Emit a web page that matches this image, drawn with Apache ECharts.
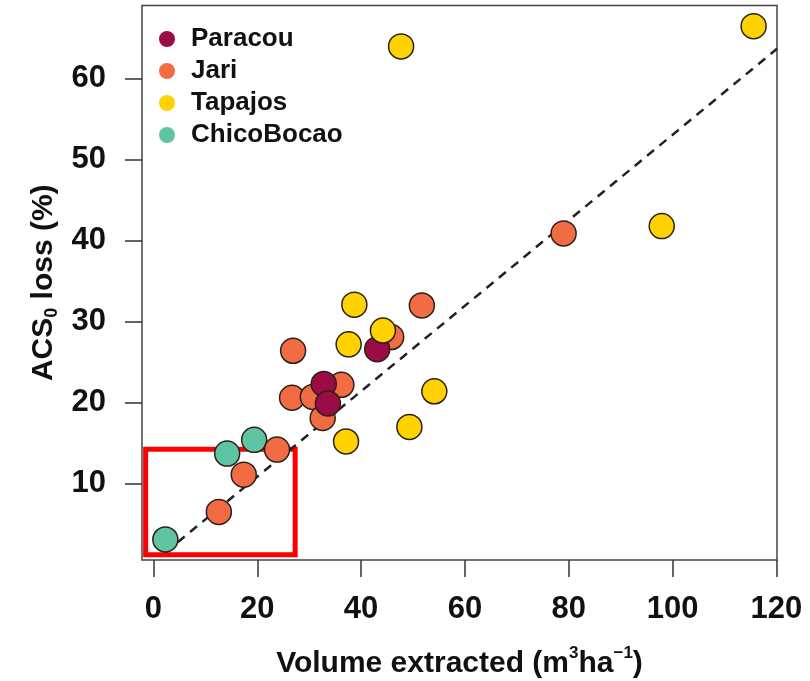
<!DOCTYPE html>
<html>
<head>
<meta charset="utf-8">
<script src="https://cdn.jsdelivr.net/npm/echarts@6/dist/echarts.min.js"></script>
<style>
  html, body { margin: 0; padding: 0; background: #fff; }
  #chart { width: 810px; height: 681px; }
</style>
</head>
<body>
<div id="chart"></div>
<script>
// values: [volume extracted, ACS0 loss]
const paracou = [[43.1, 26.6], [32.8, 22.3], [33.6, 19.9]]
const jari = [
  [51.7, 32.0], [45.8, 28.1], [26.9, 26.4], [36.2, 22.2], [26.7, 20.6], [30.7, 20.7],
  [32.6, 18.1], [23.8, 14.2], [17.4, 11.1], [12.6, 6.5], [79.0, 40.9]
]
const tapajos = [
  [38.7, 32.1], [44.2, 28.9], [37.6, 27.2], [54.1, 21.4], [49.3, 17.0], [37.1, 15.2],
  [47.7, 64.0], [115.6, 66.5], [97.9, 41.8]
]
const chicoBocao = [[2.3, 3.1], [14.2, 13.7], [19.4, 15.4]]
const fitLine = [[2.3, 1.5], [120.1, 63.7]]
const highlightBox = [[-1.5, 14.25], [27.3, 1.2]]

const xTicks = [0, 20, 40, 60, 80, 100, 120]
const yTicks = [10, 20, 30, 40, 50, 60]

const font = '"Liberation Sans", Arial, sans-serif'
const colors = {
  Paracou: '#9b0b46',
  Jari: '#f26c43',
  Tapajos: '#ffd200',
  ChicoBocao: '#5fc4a1'
}

const chart = echarts.init(document.getElementById('chart'))

const scatter = (name, data) => ({
  name,
  type: 'scatter',
  data,
  symbol: 'circle',
  symbolSize: 25,
  z: 3,
  itemStyle: {
    color: colors[name],
    borderColor: '#2b2118',
    borderWidth: 1.5,
    opacity: 1
  }
})

const option = {
  animation: false,
  backgroundColor: '#fff',
  grid: {
    left: 142,
    right: 33,
    top: 5.5,
    bottom: 121,
    outerBoundsMode: 'none',
    show: true,
    borderColor: '#444',
    borderWidth: 1.5,
    backgroundColor: 'transparent'
  },
  legend: {
    orient: 'vertical',
    left: 154,
    top: 21,
    itemWidth: 38,
    itemHeight: 16,
    itemGap: 6,
    icon: 'circle',
    data: ['Paracou', 'Jari', 'Tapajos', 'ChicoBocao'],
    itemStyle: { borderWidth: 0 },
    textStyle: {
      fontFamily: font,
      fontWeight: 'bold',
      fontSize: 26,
      color: '#111'
    }
  },
  xAxis: {
    type: 'value',
    min: -2.2,
    max: 120.1,
    splitLine: { show: false },
    axisLine: { show: false, onZero: false },
    axisTick: {
      show: true,
      length: 17,
      customValues: xTicks,
      lineStyle: { color: '#333', width: 1.5 }
    },
    axisLabel: {
      customValues: xTicks,
      margin: 34,
      fontFamily: font,
      fontWeight: 'bold',
      fontSize: 31,
      color: '#111'
    },
    name: 'Volume extracted (m{sup|3}ha{sup|\u22121})',
    nameLocation: 'middle',
    nameGap: 85,
    nameTextStyle: {
      fontFamily: font,
      fontWeight: 'bold',
      fontSize: 30,
      color: '#111',
      rich: {
        sup: {
          fontFamily: font,
          fontWeight: 'bold',
          fontSize: 17,
          color: '#111',
          padding: [0, 0, 20, 0]
        }
      }
    }
  },
  yAxis: {
    type: 'value',
    min: 0.56,
    max: 69.05,
    splitLine: { show: false },
    axisLine: { show: false, onZero: false },
    axisTick: {
      show: true,
      length: 17,
      customValues: yTicks,
      lineStyle: { color: '#333', width: 1.5 }
    },
    axisLabel: {
      customValues: yTicks,
      margin: 36,
      fontFamily: font,
      fontWeight: 'bold',
      fontSize: 31,
      color: '#111'
    },
    name: 'ACS{sub|0} loss (%)',
    nameLocation: 'middle',
    nameGap: 80,
    nameTextStyle: {
      fontFamily: font,
      fontWeight: 'bold',
      fontSize: 30,
      color: '#111',
      rich: {
        sub: {
          fontFamily: font,
          fontWeight: 'bold',
          fontSize: 18,
          color: '#111',
          padding: [16, 0, 0, 0]
        }
      }
    }
  },
  series: [
    {
      name: 'fit',
      type: 'line',
      data: fitLine,
      symbol: 'none',
      z: 1,
      lineStyle: { color: '#222', width: 2.5, type: [9, 7] },
      markArea: {
        silent: true,
        itemStyle: {
          color: 'rgba(0,0,0,0)',
          borderColor: '#ff0000',
          borderWidth: 5
        },
        data: [[{ coord: highlightBox[0] }, { coord: highlightBox[1] }]]
      }
    },
    scatter('ChicoBocao', chicoBocao),
    scatter('Jari', jari),
    scatter('Paracou', paracou),
    scatter('Tapajos', tapajos)
  ]
}

chart.setOption(option)
window.addEventListener('resize', () => chart.resize())
</script>
</body>
</html>
